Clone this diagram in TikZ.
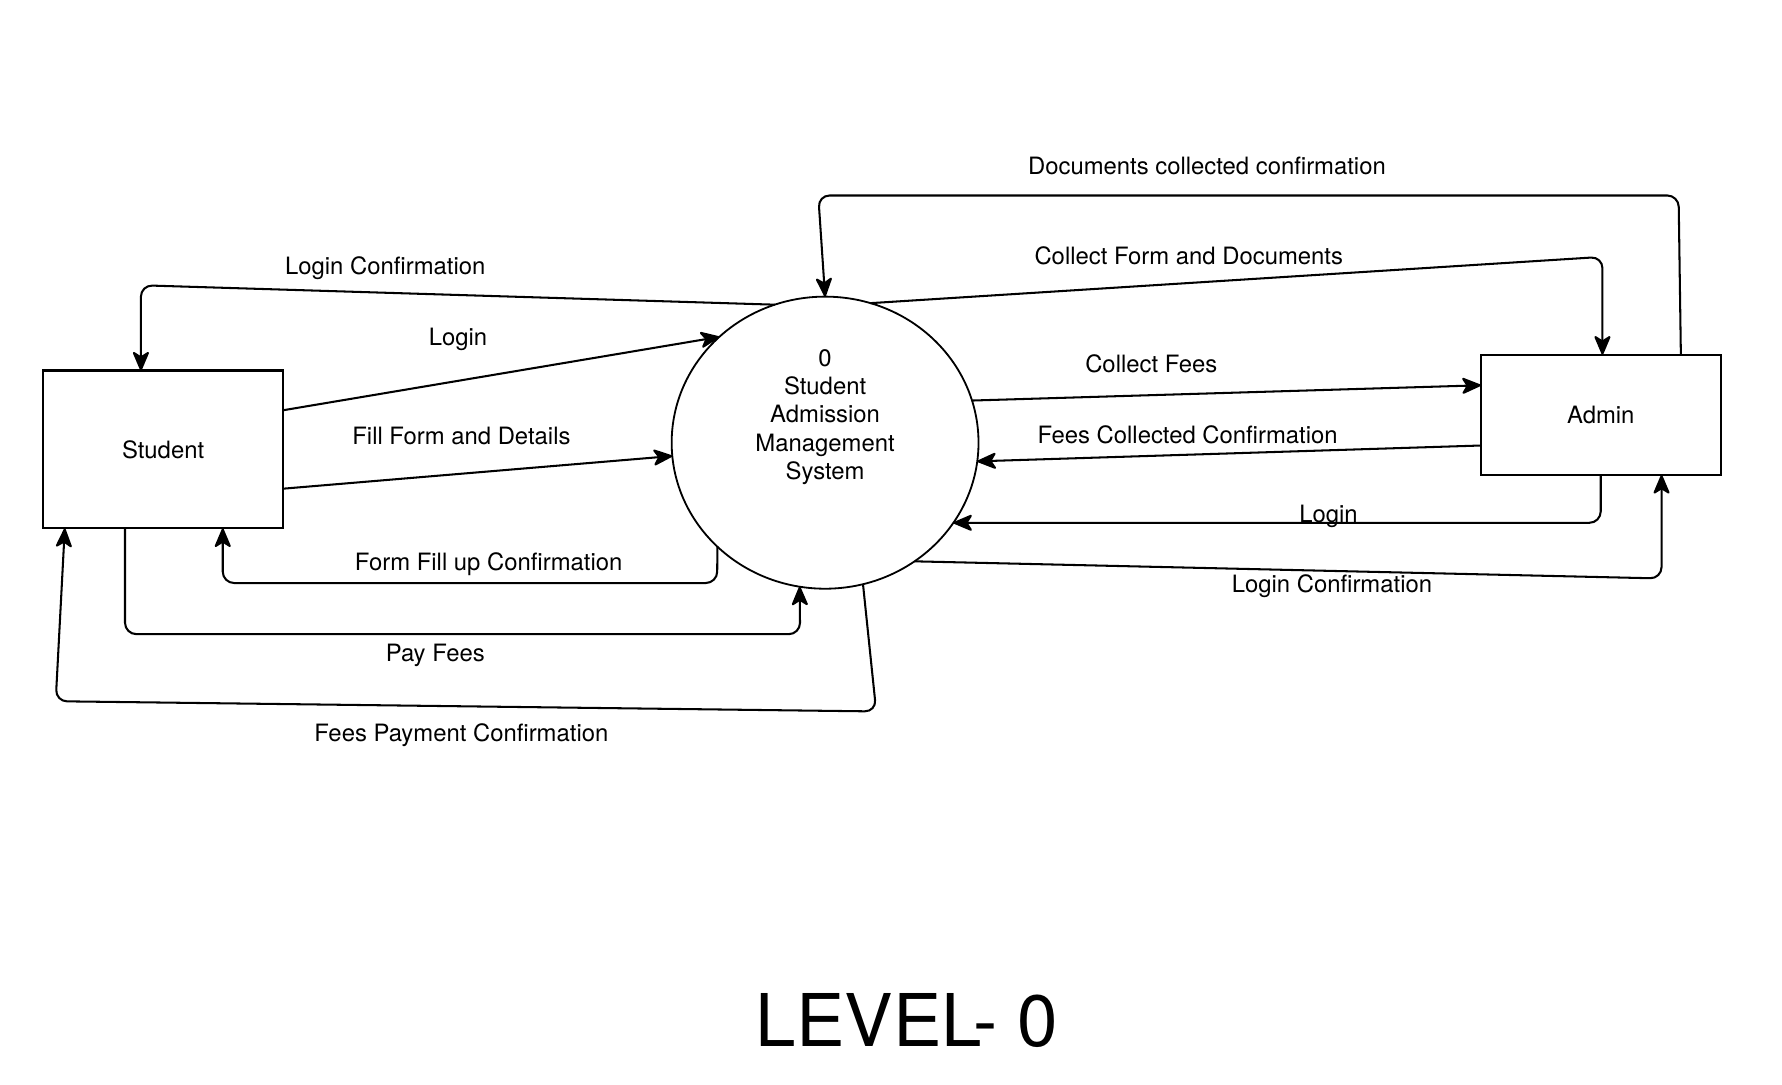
\documentclass[tikz,border=0pt]{standalone}
\usepackage{fontspec}
\setmainfont{TeX Gyre Heros}
\usetikzlibrary{arrows.meta,shapes.geometric}
\begin{document}
\begin{tikzpicture}[x=1pt,y=-1pt,
  lbl/.style={font=\fontsize{21}{25}\selectfont, inner sep=0pt, yshift=-2pt},
  ent/.style={draw, line width=1.8pt, minimum width=211pt, inner sep=0pt, outer sep=0pt, font=\fontsize{21}{25}\selectfont},
  proc/.style={draw, ellipse, line width=1.6pt, minimum width=270pt, minimum height=257pt, inner sep=0pt, outer sep=0pt},
  flow/.style={line width=1.8pt, rounded corners=10pt, -{Stealth[length=19pt,width=16pt,inset=5pt,round=false]}},
]
\useasboundingbox[fill=white] (0,0) rectangle (1568,954);

% entities and process
\node[ent, minimum height=139pt] (stu) at (143.5,395.5) {Student};
\node[ent, minimum height=106pt] (adm) at (1408.5,365) {Admin};
\node[proc] (sys) at (726,389.5) {};
\node[lbl, align=center, font=\fontsize{21}{24.7}\selectfont, yshift=-3pt] (syslbl) at (726,362) {0\\Student\\Admission\\Management\\System};

% student side flows
\draw[flow] (sys.110) -- (124,251) -- ([xshift=-19.5pt]stu.north);
\draw[flow] ([yshift=34.5pt]stu.east) -- (sys.135.8);
\draw[flow] ([yshift=-34.5pt]stu.east) -- (sys.185.3);
\draw[flow] (sys.224.2) -- (631,513) -- (196,513) -- ([xshift=52.5pt]stu.south);
\draw[flow] ([xshift=-33.5pt]stu.south) -- (110,558) -- (704,558) -- (sys.260.1);
\draw[flow] (sys.285.6) -- (771,626) -- (49,617) -- ([xshift=-86.5pt]stu.south);

% admin side flows
\draw[flow] ([xshift=70.5pt]adm.north) -- (1477,172) -- (720,172) -- (sys.north);
\draw[flow] (sys.72.5) -- (1410,226) -- ([xshift=1.5pt]adm.north);
\draw[flow] (sys.16.5) -- ([yshift=26pt]adm.west);
\draw[flow] ([yshift=-27pt]adm.west) -- (sys.-7.4);
\draw[flow] (adm.south) |- (sys.-32.9);
\draw[flow] (sys.-53.6) -- (1462,509) -- ([xshift=53.5pt]adm.south);

% labels
\node[lbl] (l1) at (339,234) {Login Confirmation};
\node[lbl] (l2) at (403,297) {Login};
\node[lbl] (l3) at (406,382) {Fill Form and Details};
\node[lbl] (l4) at (430,494) {Form Fill up Confirmation};
\node[lbl] (l5) at (383,575) {Pay Fees};
\node[lbl] (l6) at (406,645) {Fees Payment Confirmation};
\node[lbl] (l7) at (1062,144) {Documents collected confirmation};
\node[lbl] (l8) at (1046,223) {Collect Form and Documents};
\node[lbl] (l9) at (1013,318) {Collect Fees};
\node[lbl] (l10) at (1045,381) {Fees Collected Confirmation};
\node[lbl] (l11) at (1169,452) {Login};
\node[lbl] (l12) at (1172,514) {Login Confirmation};

\node[inner sep=0pt, font=\fontsize{64}{70}\selectfont] (title) at (798,898) {LEVEL- 0};
\end{tikzpicture}
\end{document}
